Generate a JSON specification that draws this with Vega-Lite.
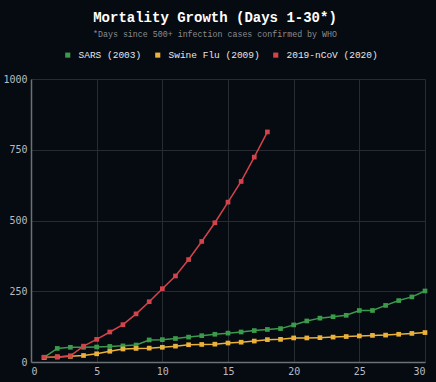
{
  "$schema": "https://vega.github.io/schema/vega-lite/v6.json",
  "width": 394,
  "height": 283,
  "autosize": {"type": "none"},
  "padding": {"left": 31, "top": 79, "right": 11, "bottom": 20},
  "background": "#060a11",
  "title": {
    "text": "Mortality Growth (Days 1-30*)",
    "subtitle": "*Days since 500+ infection cases confirmed by WHO",
    "anchor": "middle",
    "dx": -13,
    "offset": 12,
    "font": "Liberation Mono",
    "fontSize": 14,
    "fontWeight": "bold",
    "color": "#ffffff",
    "subtitleFont": "Liberation Mono",
    "subtitleFontSize": 8.3,
    "subtitleColor": "#8a8d92",
    "subtitlePadding": 5
  },
  "config": {
    "view": {"stroke": null},
    "axis": {
      "labelFont": "DejaVu Sans Mono",
      "labelFontSize": 10,
      "labelColor": "#b8bcc2",
      "gridColor": "#272c33",
      "gridWidth": 1,
      "domainColor": "#6c7077",
      "domainWidth": 1.5,
      "ticks": false,
      "labelPadding": 4,
      "title": null
    },
    "legend": {
      "labelFont": "Liberation Mono",
      "labelFontSize": 9.5,
      "labelColor": "#e6e6e6"
    }
  },
  "data": {
    "values": [
      {"day": 1, "series": "SARS (2003)", "deaths": 16},
      {"day": 2, "series": "SARS (2003)", "deaths": 48},
      {"day": 3, "series": "SARS (2003)", "deaths": 52},
      {"day": 4, "series": "SARS (2003)", "deaths": 52},
      {"day": 5, "series": "SARS (2003)", "deaths": 53},
      {"day": 6, "series": "SARS (2003)", "deaths": 55},
      {"day": 7, "series": "SARS (2003)", "deaths": 57},
      {"day": 8, "series": "SARS (2003)", "deaths": 60},
      {"day": 9, "series": "SARS (2003)", "deaths": 78},
      {"day": 10, "series": "SARS (2003)", "deaths": 79},
      {"day": 11, "series": "SARS (2003)", "deaths": 83},
      {"day": 12, "series": "SARS (2003)", "deaths": 88},
      {"day": 13, "series": "SARS (2003)", "deaths": 93},
      {"day": 14, "series": "SARS (2003)", "deaths": 98},
      {"day": 15, "series": "SARS (2003)", "deaths": 102},
      {"day": 16, "series": "SARS (2003)", "deaths": 106},
      {"day": 17, "series": "SARS (2003)", "deaths": 111},
      {"day": 18, "series": "SARS (2003)", "deaths": 115},
      {"day": 19, "series": "SARS (2003)", "deaths": 118},
      {"day": 20, "series": "SARS (2003)", "deaths": 131},
      {"day": 21, "series": "SARS (2003)", "deaths": 145},
      {"day": 22, "series": "SARS (2003)", "deaths": 155},
      {"day": 23, "series": "SARS (2003)", "deaths": 160},
      {"day": 24, "series": "SARS (2003)", "deaths": 165},
      {"day": 25, "series": "SARS (2003)", "deaths": 182},
      {"day": 26, "series": "SARS (2003)", "deaths": 182},
      {"day": 27, "series": "SARS (2003)", "deaths": 200},
      {"day": 28, "series": "SARS (2003)", "deaths": 217},
      {"day": 29, "series": "SARS (2003)", "deaths": 230},
      {"day": 30, "series": "SARS (2003)", "deaths": 251},
      {"day": 1, "series": "Swine Flu (2009)", "deaths": 16},
      {"day": 2, "series": "Swine Flu (2009)", "deaths": 18},
      {"day": 3, "series": "Swine Flu (2009)", "deaths": 20},
      {"day": 4, "series": "Swine Flu (2009)", "deaths": 23},
      {"day": 5, "series": "Swine Flu (2009)", "deaths": 29},
      {"day": 6, "series": "Swine Flu (2009)", "deaths": 38},
      {"day": 7, "series": "Swine Flu (2009)", "deaths": 46},
      {"day": 8, "series": "Swine Flu (2009)", "deaths": 48},
      {"day": 9, "series": "Swine Flu (2009)", "deaths": 49},
      {"day": 10, "series": "Swine Flu (2009)", "deaths": 52},
      {"day": 11, "series": "Swine Flu (2009)", "deaths": 56},
      {"day": 12, "series": "Swine Flu (2009)", "deaths": 61},
      {"day": 13, "series": "Swine Flu (2009)", "deaths": 62},
      {"day": 14, "series": "Swine Flu (2009)", "deaths": 63},
      {"day": 15, "series": "Swine Flu (2009)", "deaths": 67},
      {"day": 16, "series": "Swine Flu (2009)", "deaths": 70},
      {"day": 17, "series": "Swine Flu (2009)", "deaths": 74},
      {"day": 18, "series": "Swine Flu (2009)", "deaths": 79},
      {"day": 19, "series": "Swine Flu (2009)", "deaths": 80},
      {"day": 20, "series": "Swine Flu (2009)", "deaths": 85},
      {"day": 21, "series": "Swine Flu (2009)", "deaths": 85},
      {"day": 22, "series": "Swine Flu (2009)", "deaths": 86},
      {"day": 23, "series": "Swine Flu (2009)", "deaths": 88},
      {"day": 24, "series": "Swine Flu (2009)", "deaths": 90},
      {"day": 25, "series": "Swine Flu (2009)", "deaths": 92},
      {"day": 26, "series": "Swine Flu (2009)", "deaths": 94},
      {"day": 27, "series": "Swine Flu (2009)", "deaths": 95},
      {"day": 28, "series": "Swine Flu (2009)", "deaths": 98},
      {"day": 29, "series": "Swine Flu (2009)", "deaths": 101},
      {"day": 30, "series": "Swine Flu (2009)", "deaths": 104},
      {"day": 1, "series": "2019-nCoV (2020)", "deaths": 17},
      {"day": 2, "series": "2019-nCoV (2020)", "deaths": 18},
      {"day": 3, "series": "2019-nCoV (2020)", "deaths": 22},
      {"day": 4, "series": "2019-nCoV (2020)", "deaths": 56},
      {"day": 5, "series": "2019-nCoV (2020)", "deaths": 80},
      {"day": 6, "series": "2019-nCoV (2020)", "deaths": 106},
      {"day": 7, "series": "2019-nCoV (2020)", "deaths": 132},
      {"day": 8, "series": "2019-nCoV (2020)", "deaths": 170},
      {"day": 9, "series": "2019-nCoV (2020)", "deaths": 213},
      {"day": 10, "series": "2019-nCoV (2020)", "deaths": 259},
      {"day": 11, "series": "2019-nCoV (2020)", "deaths": 304},
      {"day": 12, "series": "2019-nCoV (2020)", "deaths": 362},
      {"day": 13, "series": "2019-nCoV (2020)", "deaths": 426},
      {"day": 14, "series": "2019-nCoV (2020)", "deaths": 492},
      {"day": 15, "series": "2019-nCoV (2020)", "deaths": 565},
      {"day": 16, "series": "2019-nCoV (2020)", "deaths": 638},
      {"day": 17, "series": "2019-nCoV (2020)", "deaths": 724},
      {"day": 18, "series": "2019-nCoV (2020)", "deaths": 813}
    ]
  },
  "encoding": {
    "x": {
      "field": "day",
      "type": "quantitative",
      "scale": {"domain": [0, 30], "nice": false, "zero": false},
      "axis": {"values": [0, 5, 10, 15, 20, 25, 30]}
    },
    "y": {
      "field": "deaths",
      "type": "quantitative",
      "scale": {"domain": [0, 1000], "nice": false},
      "axis": {"values": [0, 250, 500, 750, 1000], "format": "d"}
    },
    "color": {
      "field": "series",
      "type": "nominal",
      "scale": {
        "domain": ["SARS (2003)", "Swine Flu (2009)", "2019-nCoV (2020)"],
        "range": ["#3b9a4b", "#eab23a", "#d4434a"]
      },
      "legend": {
        "title": null,
        "orient": "none",
        "direction": "horizontal",
        "legendX": 32,
        "legendY": -29,
        "symbolType": "square",
        "symbolSize": 26,
        "symbolStrokeWidth": 0,
        "labelOffset": 6,
        "columnPadding": 11
      }
    }
  },
  "layer": [
    {"mark": {"type": "line", "strokeWidth": 1.5}},
    {"mark": {"type": "point", "shape": "square", "filled": true, "size": 22, "opacity": 1}}
  ]
}
